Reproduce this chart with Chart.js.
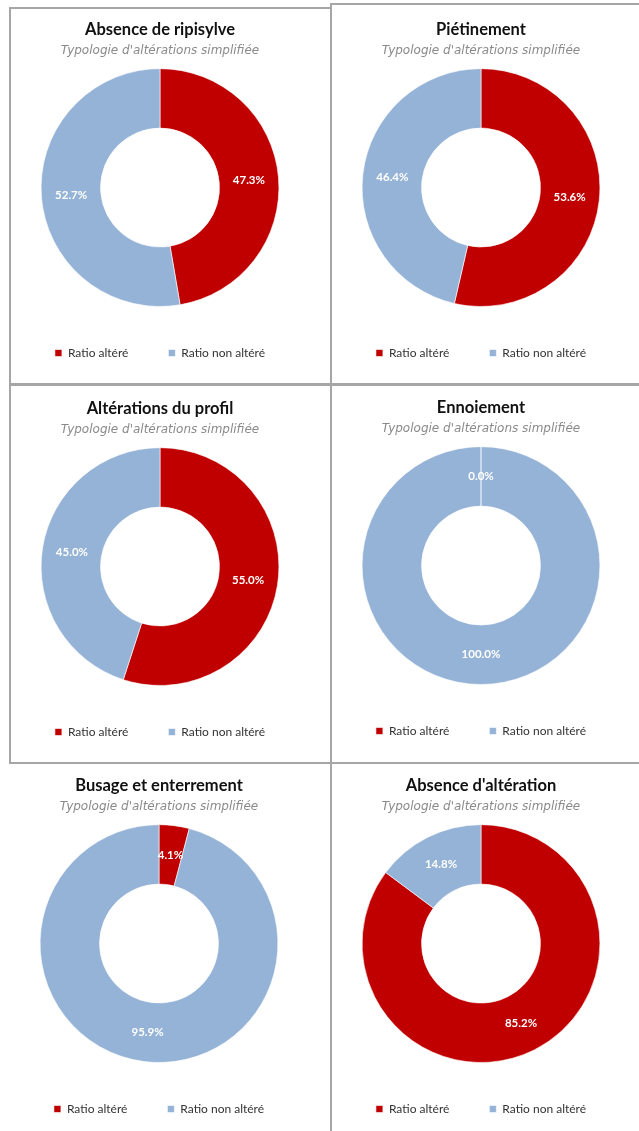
<!DOCTYPE html>
<html lang="fr">
<head>
<meta charset="utf-8">
<title>Typologie d'altérations simplifiée</title>
<script src="https://cdn.jsdelivr.net/npm/chart.js@4.4.1/dist/chart.umd.min.js"></script>
<style>
  html, body { margin: 0; padding: 0; background: #fff; }
  #page { position: relative; width: 639px; height: 1131px; overflow: hidden; }
  .rule { position: absolute; background: #a6a6a6; }
  canvas { position: absolute; }
</style>
</head>
<body>
<div id="page">
  <!-- panel frames -->
  <div class="rule" style="left:10px; top:7px; width:322px; height:2px"></div>
  <div class="rule" style="left:331px; top:3px; width:308px; height:2px"></div>
  <div class="rule" style="left:10px; top:383px; width:629px; height:3px"></div>
  <div class="rule" style="left:10px; top:762px; width:629px; height:2px"></div>
  <div class="rule" style="left:9px; top:7px; width:2px; height:757px"></div>
  <div class="rule" style="left:330px; top:3px; width:2px; height:1128px"></div>

  <canvas id="c0" width="320" height="361"></canvas>
  <canvas id="c1" width="320" height="361"></canvas>
  <canvas id="c2" width="320" height="361"></canvas>
  <canvas id="c3" width="320" height="361"></canvas>
  <canvas id="c4" width="320" height="361"></canvas>
  <canvas id="c5" width="320" height="361"></canvas>
</div>
<script>
const categories = ['Ratio altéré', 'Ratio non altéré'];
const chartTitles = [
  'Absence de ripisylve',
  'Piétinement',
  'Altérations du profil',
  'Ennoiement',
  'Busage et enterrement',
  "Absence d'altération"
];
const subtitleText = "Typologie d'altérations simplifiée";
const alteredRatio = [47.3, 53.6, 55.0, 0.0, 4.1, 85.2];
const intactRatio = [52.7, 46.4, 45.0, 100.0, 95.9, 14.8];

const colors = ['#C00000', '#95B3D7'];
// donut centres on the page
const centres = [[160, 188], [481, 188], [160, 567], [481, 566], [159, 944], [481, 944]];

// percentage labels in the middle of each ring segment
const ringLabels = {
  id: 'ringLabels',
  afterDatasetsDraw(chart) {
    const ctx = chart.ctx;
    const meta = chart.getDatasetMeta(0);
    const values = chart.data.datasets[0].data;
    ctx.save();
    ctx.font = 'bold 11.5px Lato';
    ctx.fillStyle = '#ffffff';
    ctx.textAlign = 'center';
    ctx.textBaseline = 'middle';
    meta.data.forEach(function(arc, i) {
      const p = arc.getProps(['x', 'y', 'startAngle', 'endAngle', 'innerRadius', 'outerRadius'], true);
      const mid = (p.startAngle + p.endAngle) / 2;
      const r = (p.innerRadius + p.outerRadius) / 2;
      ctx.fillText(values[i].toFixed(1) + '%', p.x + Math.cos(mid) * r, p.y + Math.sin(mid) * r);
    });
    ctx.restore();
  }
};

chartTitles.forEach(function(title, k) {
  const canvas = document.getElementById('c' + k);
  canvas.style.left = (centres[k][0] - 160) + 'px';
  canvas.style.top = (centres[k][1] - 180) + 'px';

  new Chart(canvas.getContext('2d'), {
    type: 'doughnut',
    data: {
      labels: categories,
      datasets: [{
        data: [alteredRatio[k], intactRatio[k]],
        backgroundColor: colors,
        borderColor: 'rgba(255,255,255,0.6)',
        borderWidth: 1
      }]
    },
    options: {
      responsive: false,
      animation: false,
      cutout: '50%',
      plugins: {
        title: {
          display: true,
          text: title,
          color: '#111111',
          font: { family: 'Lato', size: 16.5, weight: 'bold', lineHeight: 1.1 },
          padding: { top: 12.9, bottom: 0 }
        },
        subtitle: {
          display: true,
          text: subtitleText,
          color: '#8a8a8a',
          font: { family: 'DejaVu Sans', size: 12, style: 'italic', lineHeight: 1.2 },
          padding: { top: 4.3, bottom: 10.4 }
        },
        legend: {
          position: 'bottom',
          labels: {
            boxWidth: 7,
            boxHeight: 7,
            padding: 40,
            color: '#333333',
            font: { family: 'Lato', size: 12 }
          }
        },
        tooltip: { enabled: false }
      }
    },
    plugins: [ringLabels]
  });
});
</script>
</body>
</html>
